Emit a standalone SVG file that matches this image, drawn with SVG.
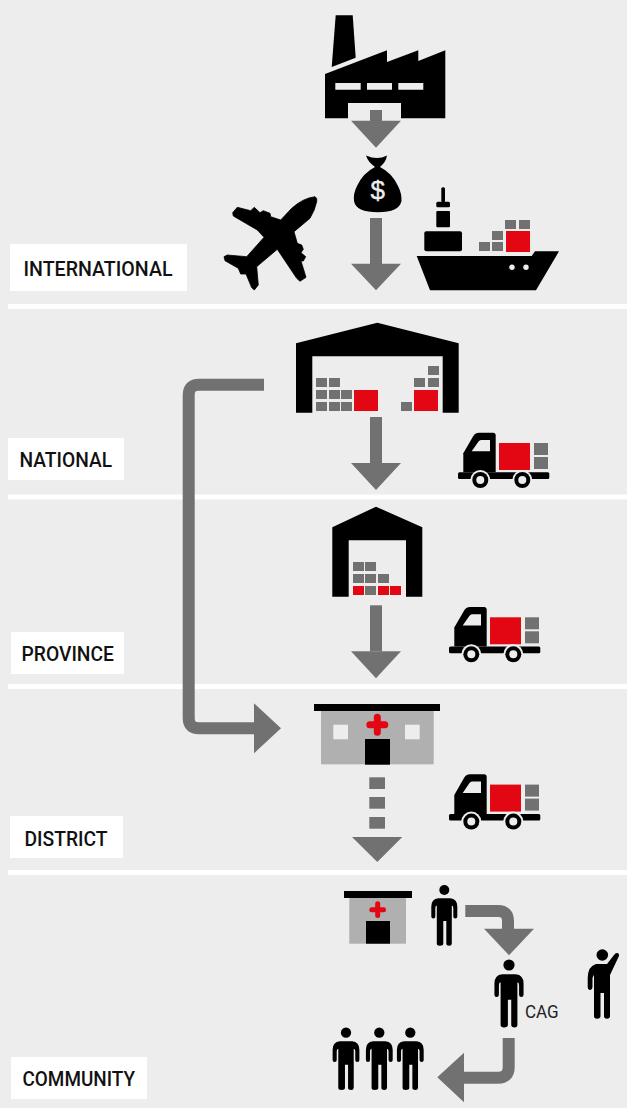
<svg xmlns="http://www.w3.org/2000/svg" width="627" height="1108" viewBox="0 0 627 1108">
<style>
.g{fill:#717171}.r{fill:#e30613}.k{fill:#000}.w{fill:#fff}.bg{fill:#ededed}.c{fill:#b0b0b0}
.lbl{font-family:Roboto,"Liberation Sans",sans-serif;font-size:20px;font-weight:500;fill:#111}
.conn{fill:none;stroke:#717171;stroke-width:12}
</style>
<defs>
<g id="truck">
<rect x="458" y="472.3" width="91.3" height="6.7" rx="1.5" class="k"/>
<path class="k" d="M463.3 472.3V453.3L473.3 436Q475.5 432.7 479 432.7H493Q495.7 432.7 495.7 435.5V472.3Z"/>
<path class="bg" d="M471.7 451.3L478.5 441.5Q479.5 440 481 440H490V451.3Z"/>
<rect class="r" x="499" y="443" width="31" height="27"/>
<rect class="g" x="534" y="443" width="14" height="12"/>
<rect class="g" x="534" y="457" width="14" height="12"/>
<circle class="bg" cx="480.3" cy="480" r="10"/><circle class="k" cx="480.3" cy="480" r="8"/><circle class="bg" cx="480.3" cy="480" r="4"/>
<circle class="bg" cx="522.3" cy="480" r="10"/><circle class="k" cx="522.3" cy="480" r="8"/><circle class="bg" cx="522.3" cy="480" r="4"/>
</g>
<g id="person">
<circle class="k" cx="0" cy="0" r="5"/>
<path class="k" d="M-6 8.3H6Q13 9 13 16.500V26.500Q13 28.500 11 28.500Q9 28.500 9 26.500V18Q9 15.500 7.500 15.500V53.500Q7.500 55.700 5 55.700Q2 55.700 2 53.500V31H-1V53.500Q-1 55.700 -4.500 55.700Q-7.500 55.700 -7.500 53.500V15.500Q-9 15.500 -9 18V26.500Q-9 28.500 -11 28.500Q-13 28.500 -13 26.500V16.500Q-13 9 -6 8.300Z"/>
</g>
</defs>
<rect width="627" height="1108" class="bg"/>
<g id="bands" class="w">
<rect x="8" y="304" width="619" height="5"/>
<rect x="8" y="494.500" width="619" height="5"/>
<rect x="8" y="684" width="619" height="5"/>
<rect x="8" y="870" width="619" height="5"/>
</g>
<g id="label-international"><rect class="w" x="10" y="244" width="177" height="47"/><text class="lbl" x="23.500" y="276" textLength="149" lengthAdjust="spacingAndGlyphs">INTERNATIONAL</text></g>
<g id="label-national"><rect class="w" x="8" y="438" width="116" height="42"/><text class="lbl" x="19.500" y="466.700" textLength="92.500" lengthAdjust="spacingAndGlyphs">NATIONAL</text></g>
<g id="label-province"><rect class="w" x="11" y="632" width="113" height="42"/><text class="lbl" x="21.500" y="661" textLength="92.500" lengthAdjust="spacingAndGlyphs">PROVINCE</text></g>
<g id="label-district"><rect class="w" x="10" y="816" width="113" height="42"/><text class="lbl" x="24.500" y="845.700" textLength="83" lengthAdjust="spacingAndGlyphs">DISTRICT</text></g>
<g id="label-community"><rect class="w" x="11" y="1057" width="136" height="42"/><text class="lbl" x="22.500" y="1085.700" textLength="112.500" lengthAdjust="spacingAndGlyphs">COMMUNITY</text></g>

<g id="factory">
<path class="k" d="M335.700 15.300H352.700L355.700 57.700L331.700 67Z"/>
<path class="k" fill-rule="evenodd" d="M325 74L387 50.300V62L418.300 50.300V61L445.300 50.300V118.300H401V103H348V118.300H325ZM335.300 83V89.700H360.700V83ZM367 83V89.700H392V83ZM398.300 83V89.700H423.300V83Z"/>
</g>
<g id="money-bag">
<path class="k" d="M366 155.500Q372 158 377 158Q382 158 387 155.500Q386 162 380 167Q392 173 398 186Q402 194 401.500 201Q399 212.300 378 212.300Q356 212.300 354 201Q353 194 357 186Q363 173 375 167Q368 162 366 155.500Z"/>
<text x="377.700" y="199" text-anchor="middle" font-family="Liberation Sans,sans-serif" font-size="26" fill="#ededed" stroke="#ededed" stroke-width="0.400">$</text>
</g>
<g id="plane">
<path class="k" stroke="#000" stroke-width="0.800" stroke-linejoin="round" d="M315 196.700Q317.500 198 316.700 201.700Q315 210 310 218.300L294 231.700L297.300 243.300L301.700 245L303.300 249.300L301 252.700L305.700 256.700L303.300 261H301L306 277.300L300 281.300L296.700 278.300L277.300 249.300L256.700 266.700L258.300 285L254.300 290L251.700 287.700L246 274H240.700L238.300 268.300L225 260.700L224 256.700L227.300 255L246.700 256.700L264 237.300L257.300 230L233.300 216L232.700 212.700L237.300 207.300L250.700 210.700L254.300 207.300L260 212.700L263.300 210.700L270 213.300L270.700 216.700L280.700 220L291.700 208.300Q303 198 315 196.700Z"/>
</g>
<g id="ship">
<path class="k" d="M416.700 256H531.700L535 251.300H559L536 290.300H430Z"/>
<rect class="k" x="424.300" y="231.300" width="37.700" height="20" rx="2"/>
<rect class="k" x="436.300" y="211" width="13.700" height="16.300" rx="1"/>
<rect class="k" x="436.300" y="201.700" width="13.700" height="5.600" rx="1.500"/>
<rect class="k" x="441.300" y="187.300" width="3.700" height="15" rx="1.500"/>
<circle class="bg" cx="512" cy="267.300" r="2.700"/><circle class="bg" cx="526" cy="267.300" r="2.700"/>
<rect class="g" x="505" y="220" width="11" height="9"/>
<rect class="g" x="519" y="220" width="11" height="9"/>
<rect class="g" x="492" y="231" width="11" height="9"/>
<rect class="g" x="479" y="242" width="11" height="9"/>
<rect class="g" x="492" y="242" width="11" height="9"/>
<rect class="r" x="506" y="231" width="24" height="21"/>
</g>
<g id="warehouse-national">
<path class="k" d="M296 343.300L377.300 322.700L458.700 343.300V412.700H442.700V356.300H312.300V412.700H296Z"/>
<g class="g">
<rect x="316" y="378" width="11" height="9"/><rect x="329" y="378" width="11" height="9"/>
<rect x="316" y="390" width="11" height="9"/><rect x="329" y="390" width="11" height="9"/><rect x="341" y="390" width="11" height="9"/>
<rect x="316" y="402" width="11" height="9"/><rect x="329" y="402" width="11" height="9"/><rect x="341" y="402" width="11" height="9"/>
<rect x="401" y="402" width="11" height="9"/>
<rect x="414" y="378" width="11" height="9"/><rect x="428" y="378" width="11" height="9"/><rect x="428" y="366" width="11" height="9"/>
</g>
<rect class="r" x="354" y="390" width="24" height="21"/>
<rect class="r" x="414" y="390" width="24" height="21"/>
</g>
<g id="truck-national"><use href="#truck"/></g>
<g id="warehouse-province">
<path class="k" d="M332.300 527.300L376 506.700L422.300 527.300V596.700H406V540.300H348.700V596.700H332.300Z"/>
<g class="g">
<rect x="353" y="562" width="11" height="9"/><rect x="365" y="562" width="11" height="9"/>
<rect x="353" y="574" width="11" height="9"/><rect x="365" y="574" width="11" height="9"/><rect x="378" y="574" width="11" height="9"/>
<rect x="365" y="586" width="11" height="9"/>
</g>
<g class="r"><rect x="353" y="586" width="11" height="9"/><rect x="378" y="586" width="11" height="9"/><rect x="390" y="586" width="11" height="9"/></g>
</g>
<g id="truck-province"><use href="#truck" transform="translate(-9 174.300)"/></g>
<g id="clinic-district">
<rect class="c" x="321" y="711" width="112.700" height="53.300"/>
<rect class="k" x="314" y="704" width="126" height="7"/>
<rect class="bg" x="333.300" y="724.700" width="14.700" height="14.600"/>
<rect class="bg" x="405" y="724.700" width="14.700" height="14.600"/>
<rect class="k" x="365" y="739" width="25" height="25.700"/>
<path d="M369.800 724.700H384.800M377.300 717.200V732.200" stroke="#e30613" stroke-width="7" stroke-linecap="round" fill="none"/>
</g>
<g id="truck-district"><use href="#truck" transform="translate(-9 341.600)"/></g>
<g id="clinic-community">
<rect class="c" x="349.300" y="898" width="56.700" height="45.700"/>
<rect class="k" x="344" y="891" width="68" height="7"/>
<rect class="k" x="366" y="921" width="24" height="22.700"/>
<path d="M371.800 909.700H383.500M377.700 903.800V915.500" stroke="#e30613" stroke-width="5" stroke-linecap="round" fill="none"/>
</g>
<g id="person-worker"><use href="#person" transform="translate(444.300 890)"/></g>
<g id="person-cag"><use href="#person" transform="translate(509 965) scale(1.120)"/><text x="525" y="1017.700" font-family="Roboto,sans-serif" font-size="18" fill="#222" textLength="33.700" lengthAdjust="spacingAndGlyphs">CAG</text></g>
<g id="person-waving">
<circle class="k" cx="602.300" cy="955" r="5.800"/>
<path class="k" d="M596 964Q588 966 587.700 978V987Q588 990 590 990Q592 990 592.500 987V978Q593 976 594 975V1016Q594 1018.700 597 1018.700Q600.500 1018.700 600.500 1016V993H604V1016Q604 1018.700 607 1018.700Q610 1018.700 610 1016V975L618.500 957Q620 954 617.500 953Q615.500 952.500 614 955L607 964Z"/>
</g>
<g id="persons-community">
<use href="#person" transform="translate(346 1032.700) scale(1.030)"/>
<use href="#person" transform="translate(379.300 1032.700) scale(1.030)"/>
<use href="#person" transform="translate(410.300 1032.700) scale(1.030)"/>
</g>
<g id="connectors">
<g id="c-factory-bag"><rect class="g" x="370" y="110" width="12" height="11"/><path class="g" d="M351 120.700H401L376 147.700Z"/></g>
<g id="c-bag-ship"><rect class="g" x="370" y="218" width="12" height="46"/><path class="g" d="M351 263.700H401L376 290.300Z"/></g>
<g id="c-nat-prov"><rect class="g" x="370" y="417" width="12" height="46"/><path class="g" d="M351 463H401L376 490Z"/></g>
<g id="c-prov-dist"><rect class="g" x="370" y="605.300" width="12" height="46"/><path class="g" d="M351 651.300H401L376 678.300Z"/></g>
<g id="c-nat-dist"><path class="conn" d="M264 384.700H199Q188.700 384.700 188.700 395V718Q188.700 728.300 199 728.300H255"/><path class="g" d="M254 703.300L281 728.300L254 753.300Z"/></g>
<g id="c-dist-comm"><rect class="g" x="369.300" y="777.300" width="15.700" height="11.700"/><rect class="g" x="369.300" y="797" width="15.700" height="11.700"/><rect class="g" x="369.300" y="817" width="15.700" height="11.700"/><path class="g" d="M352 837H402.300L377.300 862Z"/></g>
<g id="c-worker-cag"><path class="conn" d="M465.300 911H498Q508 911 508 921V930"/><path class="g" d="M484 928.700H534L509 955.300Z"/></g>
<g id="c-cag-comm"><path class="conn" d="M508.700 1038V1067Q508.700 1077.700 498 1077.700H463"/><path class="g" d="M464 1052.700V1102.300L437.300 1077.300Z"/></g>
</g>
</svg>
